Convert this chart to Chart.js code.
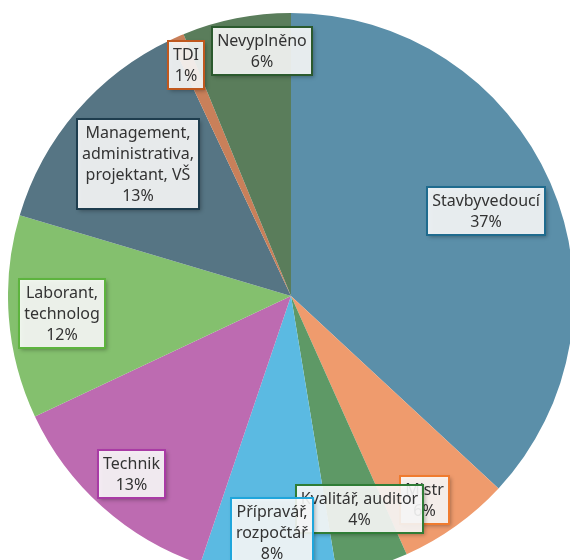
<!DOCTYPE html>
<html>
<head>
<meta charset="utf-8">
<script src="https://cdn.jsdelivr.net/npm/chart.js@4.4.1/dist/chart.umd.min.js"></script>
<style>
  html, body { margin: 0; padding: 0; width: 570px; height: 560px; overflow: hidden; background: #fff; }
  #wrap { position: absolute; left: 8px; top: 13px; width: 566px; height: 566px; }
</style>
</head>
<body>
<div id="wrap"><canvas id="c" width="566" height="566"></canvas></div>
<script>
const categories = [
  "Stavbyvedoucí",
  "Mistr",
  "Kvalitář, auditor",
  "Přípravář, rozpočtář",
  "Technik",
  "Laborant, technolog",
  "Management, administrativa, projektant, VŠ",
  "TDI",
  "Nevyplněno"
];
const labelLines = [
  ["Stavbyvedoucí"],
  ["Mistr"],
  ["Kvalitář, auditor"],
  ["Přípravář,", "rozpočtář"],
  ["Technik"],
  ["Laborant,", "technolog"],
  ["Management,", "administrativa,", "projektant, VŠ"],
  ["TDI"],
  ["Nevyplněno"]
];
const shares = [36.9, 6.4, 4.1, 7.8, 12.8, 11.6, 13.4, 0.8, 6.2];

const sliceColors = ["#5B8FA9", "#EF9B6D", "#5E9966", "#5BBAE2", "#BD6BB1", "#84C06E", "#567584", "#C9805A", "#5A7D5B"];
const boxBorders  = ["#1F6B8E", "#F07B2E", "#2F7D36", "#1FA6DC", "#A93BA5", "#5DB43E", "#1E3D4E", "#C0581E", "#2B5A2E"];
// label placement: fraction of radius and angle offset (degrees) from slice mid-angle
const labelRadius = [0.75, 0.86, 0.79, 0.84, 0.845, 0.81, 0.715, 0.895, 0.873];
const labelAngleOffset = [0, 2.5, -1.2, 0, 0, 0, 0, -0.7, 4.4];

const boxLabels = {
  id: 'boxLabels',
  afterDatasetsDraw(chart) {
    const ctx = chart.ctx;
    const meta = chart.getDatasetMeta(0);
    const ds = chart.data.datasets[0];
    const total = ds.data.reduce((a, b) => a + b, 0);
    ctx.save();
    ctx.font = '16px "Noto Sans", sans-serif';
    ctx.textAlign = 'center';
    ctx.textBaseline = 'middle';
    const lh = 21, padX = 5, padY = 3;
    meta.data.forEach((arc, i) => {
      const p = arc.getProps(['x', 'y', 'startAngle', 'endAngle', 'outerRadius'], true);
      const mid = (p.startAngle + p.endAngle) / 2 + labelAngleOffset[i] * Math.PI / 180;
      const r = p.outerRadius * labelRadius[i];
      const cx = p.x + Math.cos(mid) * r;
      const cy = p.y + Math.sin(mid) * r;
      const pct = Math.round(ds.data[i] / total * 100) + '%';
      const lines = labelLines[i].concat([pct]);
      let w = 0;
      lines.forEach(l => { w = Math.max(w, ctx.measureText(l).width); });
      const bw = Math.round(w + 2 * padX), bh = lines.length * lh + 2 * padY;
      const bx = Math.round(cx - bw / 2), by = Math.round(cy - bh / 2);
      ctx.save();
      ctx.shadowColor = 'rgba(0,0,0,0.35)';
      ctx.shadowBlur = 4;
      ctx.shadowOffsetX = 2;
      ctx.shadowOffsetY = 2;
      ctx.fillStyle = 'rgba(255,255,255,0.88)';
      ctx.fillRect(bx, by, bw, bh);
      ctx.restore();
      ctx.lineWidth = 2;
      ctx.strokeStyle = boxBorders[i];
      ctx.strokeRect(bx, by, bw, bh);
      ctx.fillStyle = '#333333';
      lines.forEach((l, k) => {
        ctx.fillText(l, bx + bw / 2, by + padY + lh * k + lh / 2 + 1);
      });
    });
    ctx.restore();
  }
};

new Chart(document.getElementById('c'), {
  type: 'pie',
  data: {
    labels: categories,
    datasets: [{
      data: shares,
      backgroundColor: sliceColors,
      borderWidth: 0
    }]
  },
  options: {
    responsive: false,
    animation: false,
    layout: { padding: 0 },
    plugins: { legend: { display: false }, tooltip: { enabled: false } }
  },
  plugins: [boxLabels]
});
</script>
</body>
</html>
